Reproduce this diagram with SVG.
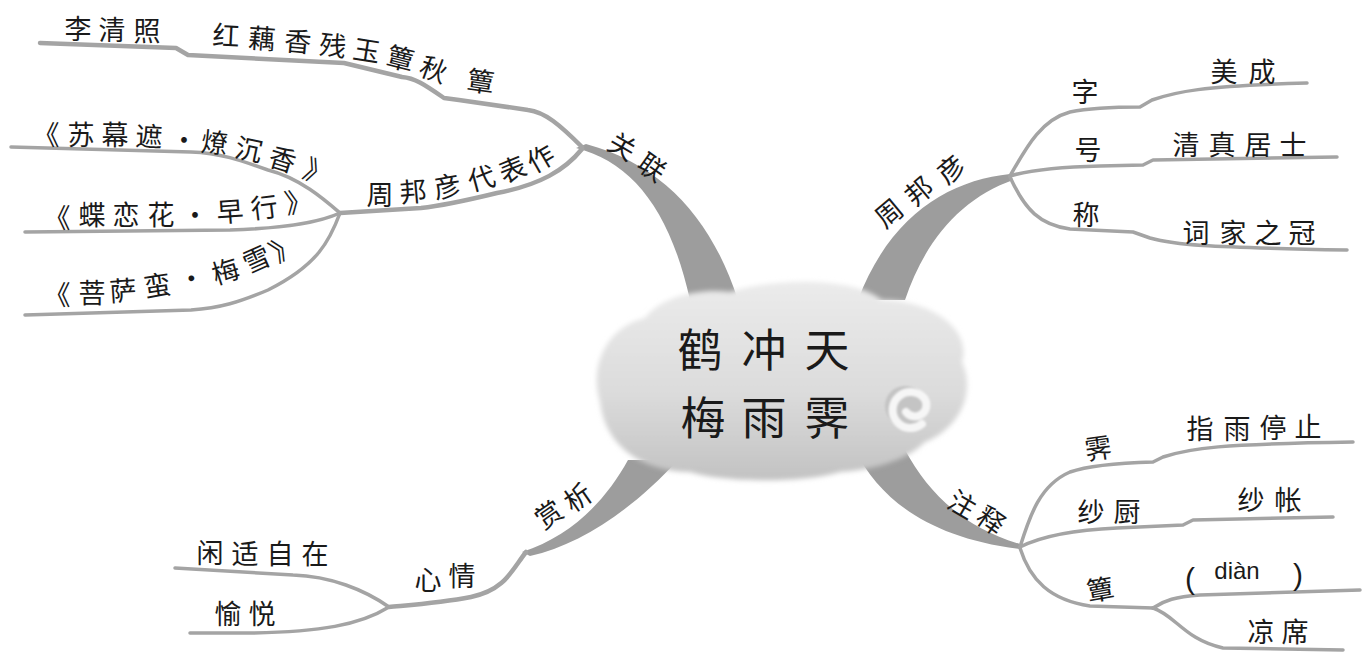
<svg xmlns="http://www.w3.org/2000/svg" width="1363" height="654" viewBox="0 0 1363 654">
<defs>
  <linearGradient id="cg" x1="0" y1="0" x2="0" y2="1">
    <stop offset="0" stop-color="#ebebeb"/>
    <stop offset="0.55" stop-color="#dcdcdc"/>
    <stop offset="1" stop-color="#c2c2c2"/>
  </linearGradient>
  <filter id="soft" x="-10%" y="-10%" width="120%" height="120%"><feGaussianBlur stdDeviation="2.5"/></filter>
  <filter id="soft2" x="-50%" y="-50%" width="200%" height="200%"><feGaussianBlur stdDeviation="1.2"/></filter>
</defs>
<style>
  .ln{fill:none;stroke:#a4a4a4;stroke-width:3.5;stroke-linecap:round;stroke-linejoin:round}
  .lt{fill:none;stroke:#a4a4a4;stroke-width:4.5;stroke-linecap:round;stroke-linejoin:round}
  .tr{fill:#9d9d9d}
  .t{font-family:"Noto Sans CJK SC",sans-serif;font-size:27px;fill:#1a1a1a;text-anchor:middle;dominant-baseline:central}
  .big{font-size:45px}
  .lat{font-family:"Liberation Sans",sans-serif;font-size:24px;fill:#1a1a1a;text-anchor:middle;dominant-baseline:central}
</style>
<rect width="1363" height="654" fill="#ffffff"/>

<g id="connectors">
  <!-- trunks -->
  <path class="tr" d="M576,148 C632,162 670,210 690,300 L738,300 C712,220 664,165 586,144 Z"/>
  <path class="tr" d="M1010,174 C950,180 890,215 858,300 L905,300 C925,240 962,198 1013,180 Z"/>
  <path class="tr" d="M855,450 C880,500 930,538 1020,549 L1020,544 C962,527 928,492 905,450 Z"/>
  <path class="tr" d="M628,460 C606,500 572,536 522,552 L530,556 C580,545 632,510 678,460 Z"/>
  <!-- top-left -->
  <path class="lt" d="M582,147 C560,125 545,112 528,110 L459,100 L444,98 C425,85 415,78 402,77 L344,63 L188,55 L176,48 L40,43"/>
  <path class="lt" d="M582,149 C565,170 540,185 497,193 C460,202 440,206 421,208 L340,213"/>
  <path class="ln" d="M340,213 C325,200 300,178 268,170 C240,160 220,153 191,152 L11,147"/>
  <path class="ln" d="M340,213 C320,222 290,228 230,230 L25,232"/>
  <path class="ln" d="M340,213 C330,240 318,265 268,290 C240,302 220,308 191,310 L25,315"/>
  <!-- top-right -->
  <path class="ln" d="M1010,176 C1025,150 1040,120 1070,112 C1090,108 1120,107 1140,107 L1152,100 C1175,92 1200,86 1307,83"/>
  <path class="ln" d="M1010,176 C1030,170 1060,167 1100,166 L1143,165 L1153,160 L1337,157"/>
  <path class="ln" d="M1010,177 C1025,210 1040,225 1070,229 L1133,232 L1150,238 C1175,245 1200,247 1347,250"/>
  <!-- bottom-right -->
  <path class="ln" d="M1020,547 C1030,515 1040,485 1070,472 C1090,465 1120,463 1153,462 L1163,457 C1190,448 1220,444 1353,442"/>
  <path class="ln" d="M1020,547 C1040,537 1070,530 1117,528 L1183,525 L1193,520 L1333,517"/>
  <path class="ln" d="M1020,548 C1030,580 1050,600 1090,606 L1153,608"/>
  <path class="ln" d="M1153,608 C1165,600 1175,597 1200,595 L1360,590"/>
  <path class="ln" d="M1153,608 C1175,615 1185,640 1223,648 L1343,650"/>
  <!-- bottom-left -->
  <path class="lt" d="M526,552 C512,570 505,590 471,597 C440,603 410,605 389,607"/>
  <path class="ln" d="M389,607 C365,590 330,576 293,575 L175,568"/>
  <path class="ln" d="M389,607 C360,625 320,632 250,633 L190,633"/>
</g>

<g id="center">
  <path filter="url(#soft)" fill="url(#cg)" d="M600,402 C588,362 610,326 645,318 C662,296 700,288 730,292 C772,278 852,276 882,300 C932,300 972,330 962,362 C976,392 960,428 925,442 C905,462 870,470 840,472 C800,484 720,482 690,472 C650,472 606,452 600,402 Z"/>
  <circle cx="905" cy="406" r="20" fill="#c4c4c4" filter="url(#soft2)"/>
  <path fill="none" stroke="#f6f6f6" stroke-width="8" stroke-linecap="round" filter="url(#soft2)" d="M922,424 A18,18 0 1 1 924,398 A10,10 0 1 1 906,412"/>
  <text class="t big" x="700" y="347">鹤</text>
  <text class="t big" x="764" y="347">冲</text>
  <text class="t big" x="827" y="347">天</text>
  <text class="t big" x="703" y="415">梅</text>
  <text class="t big" x="764" y="415">雨</text>
  <text class="t big" x="827" y="415">霁</text>
</g>

<g id="n-guanlian">
  <text class="t" x="623" y="145" transform="rotate(30 623 145)">关</text>
  <text class="t" x="653" y="166" transform="rotate(35 653 166)">联</text>
</g>
<g id="n-dian-left">
  <text class="t" x="481" y="80" transform="rotate(8 481 80)">簟</text>
</g>
<g id="n-hongou">
  <text class="t" x="226" y="34" transform="rotate(3 226 34)">红</text>
  <text class="t" x="262" y="37" transform="rotate(4 262 37)">藕</text>
  <text class="t" x="298" y="40" transform="rotate(5 298 40)">香</text>
  <text class="t" x="333" y="44" transform="rotate(7 333 44)">残</text>
  <text class="t" x="367" y="49" transform="rotate(9 367 49)">玉</text>
  <text class="t" x="401" y="57" transform="rotate(14 401 57)">簟</text>
  <text class="t" x="434" y="68" transform="rotate(20 434 68)">秋</text>
</g>
<g id="n-liqingzhao">
  <text class="t" x="78" y="27">李</text>
  <text class="t" x="112" y="28">清</text>
  <text class="t" x="147" y="29">照</text>
</g>
<g id="n-daibiaozuo">
  <text class="t" x="380" y="193">周</text>
  <text class="t" x="413" y="190" transform="rotate(-5 413 190)">邦</text>
  <text class="t" x="447" y="185" transform="rotate(-10 447 185)">彦</text>
  <text class="t" x="481" y="177" transform="rotate(-15 481 177)">代</text>
  <text class="t" x="512" y="168" transform="rotate(-22 512 168)">表</text>
  <text class="t" x="540" y="157" transform="rotate(-30 540 157)">作</text>
</g>
<g id="n-sumuzhe">
  <text class="t" x="46" y="133">《</text>
  <text class="t" x="81" y="133">苏</text>
  <text class="t" x="115" y="133">幕</text>
  <text class="t" x="149" y="135" transform="rotate(3 149 135)">遮</text>
  <text class="t" x="184" y="138">·</text>
  <text class="t" x="215" y="141" transform="rotate(6 215 141)">燎</text>
  <text class="t" x="249" y="148" transform="rotate(12 249 148)">沉</text>
  <text class="t" x="283" y="158" transform="rotate(17 283 158)">香</text>
  <text class="t" x="318" y="171" transform="rotate(22 318 171)">》</text>
</g>
<g id="n-dielianhua">
  <text class="t" x="57" y="216">《</text>
  <text class="t" x="92" y="213">蝶</text>
  <text class="t" x="126" y="213">恋</text>
  <text class="t" x="161" y="213">花</text>
  <text class="t" x="195" y="213">·</text>
  <text class="t" x="230" y="210" transform="rotate(-4 230 210)">早</text>
  <text class="t" x="264" y="206" transform="rotate(-7 264 206)">行</text>
  <text class="t" x="298" y="200" transform="rotate(-10 298 200)">》</text>
</g>
<g id="n-pusaman">
  <text class="t" x="57" y="293">《</text>
  <text class="t" x="92" y="291">菩</text>
  <text class="t" x="123" y="289" transform="rotate(-4 123 289)">萨</text>
  <text class="t" x="157" y="284" transform="rotate(-9 157 284)">蛮</text>
  <text class="t" x="191" y="277" transform="rotate(-14 191 277)">·</text>
  <text class="t" x="225" y="270" transform="rotate(-18 225 270)">梅</text>
  <text class="t" x="256" y="258" transform="rotate(-24 256 258)">雪</text>
  <text class="t" x="283" y="246" transform="rotate(-32 283 246)">》</text>
</g>

<g id="n-zhoubangyan">
  <text class="t" x="888" y="212" transform="rotate(-40 888 212)">周</text>
  <text class="t" x="918" y="190" transform="rotate(-40 918 190)">邦</text>
  <text class="t" x="950" y="168" transform="rotate(-40 950 168)">彦</text>
</g>
<g id="n-zi"><text class="t" x="1085" y="90">字</text></g>
<g id="n-meicheng">
  <text class="t" x="1224" y="70">美</text>
  <text class="t" x="1262" y="70">成</text>
</g>
<g id="n-hao"><text class="t" x="1088" y="148">号</text></g>
<g id="n-qingzhen">
  <text class="t" x="1186" y="143">清</text>
  <text class="t" x="1222" y="143">真</text>
  <text class="t" x="1258" y="143">居</text>
  <text class="t" x="1293" y="143">士</text>
</g>
<g id="n-cheng"><text class="t" x="1086" y="213">称</text></g>
<g id="n-cijia">
  <text class="t" x="1196" y="231">词</text>
  <text class="t" x="1233" y="231">家</text>
  <text class="t" x="1268" y="231">之</text>
  <text class="t" x="1302" y="231">冠</text>
</g>

<g id="n-zhushi">
  <text class="t" x="963" y="503" transform="rotate(30 963 503)">注</text>
  <text class="t" x="992" y="519" transform="rotate(35 992 519)">释</text>
</g>
<g id="n-ji"><text class="t" x="1098" y="447" transform="rotate(-8 1098 447)">霁</text></g>
<g id="n-zhiyu">
  <text class="t" x="1200" y="427">指</text>
  <text class="t" x="1237" y="427">雨</text>
  <text class="t" x="1273" y="426">停</text>
  <text class="t" x="1308" y="425">止</text>
</g>
<g id="n-shachu">
  <text class="t" x="1091" y="510">纱</text>
  <text class="t" x="1127" y="510">厨</text>
</g>
<g id="n-shazhang">
  <text class="t" x="1251" y="498">纱</text>
  <text class="t" x="1288" y="498">帐</text>
</g>
<g id="n-dian-right"><text class="t" x="1100" y="588" transform="rotate(-10 1100 588)">簟</text></g>
<g id="n-pinyin">
  <text class="lat" x="1190" y="578" style="font-size:30px">(</text>
  <text class="lat" x="1237" y="570">diàn</text>
  <text class="lat" x="1298" y="574" style="font-size:30px">)</text>
</g>
<g id="n-liangxi">
  <text class="t" x="1261" y="630">凉</text>
  <text class="t" x="1295" y="630">席</text>
</g>

<g id="n-shangxi">
  <text class="t" x="548" y="513" transform="rotate(-35 548 513)">赏</text>
  <text class="t" x="577" y="496" transform="rotate(-35 577 496)">析</text>
</g>
<g id="n-xinqing">
  <text class="t" x="428" y="578">心</text>
  <text class="t" x="462" y="574">情</text>
</g>
<g id="n-xianshi">
  <text class="t" x="210" y="551">闲</text>
  <text class="t" x="245" y="552">适</text>
  <text class="t" x="280" y="552">自</text>
  <text class="t" x="315" y="552">在</text>
</g>
<g id="n-yuyue">
  <text class="t" x="228" y="612">愉</text>
  <text class="t" x="262" y="612">悦</text>
</g>
</svg>
